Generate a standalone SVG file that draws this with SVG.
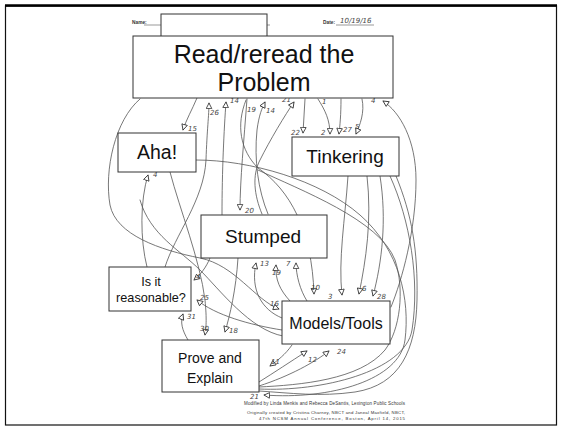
<svg xmlns="http://www.w3.org/2000/svg" width="563" height="428" viewBox="0 0 563 428">
<style>
.box{fill:#fff;stroke:#333;stroke-width:1}
.t{font-family:"Liberation Sans",Arial,sans-serif;fill:#111;text-anchor:middle}
.c{fill:none;stroke:#555;stroke-width:0.8;stroke-linecap:round}
.n{font-family:"DejaVu Sans",sans-serif;font-size:7px;fill:#444;font-style:italic}
.sm{font-family:"Liberation Sans",Arial,sans-serif;fill:#333}
</style>
<defs>
<marker id="ah" viewBox="0 0 10 10" refX="9" refY="5" markerWidth="7" markerHeight="7" markerUnits="userSpaceOnUse" orient="auto">
<path d="M1,1 L9,5 L1,9 Z" fill="#fff" stroke="#333" stroke-width="1.2"/>
</marker>
</defs>
<rect x="0" y="0" width="563" height="428" fill="#fff"/>
<rect x="5.5" y="6" width="551" height="419" fill="none" stroke="#111" stroke-width="1.2"/>
<line x1="5" y1="5.5" x2="557" y2="5.5" stroke="#000" stroke-width="2.5"/>

<g id="header">
<text class="sm" x="132" y="24" font-size="4.8" font-weight="bold">Name:</text>
<line x1="144" y1="25" x2="270" y2="25" stroke="#333" stroke-width="0.5"/>
<text class="sm" x="323" y="24" font-size="4.8" font-weight="bold">Date:</text>
<line x1="336" y1="25" x2="374" y2="25" stroke="#333" stroke-width="0.5"/>
<text class="n" x="340" y="23" font-size="8">10/19/16</text>
<rect x="161" y="14" width="106" height="23" class="box"/>
</g>

<g id="connectors">
<path class="c" d="M165,267 C175,235 204,200 206,160 C207,130 209,115 209,103" marker-end="url(#ah)"/>
<path class="c" d="M222,215 C222,170 224,130 226,102" marker-end="url(#ah)"/>
<path class="c" d="M247,99 C244,140 240,180 240,210" marker-end="url(#ah)"/>
<path class="c" d="M246,100 C236,125 240,150 258,168 C290,190 312,230 314,294" marker-end="url(#ah)"/>
<path class="c" d="M268,214 C258,190 254,160 257,130 C259,115 262,108 265,102" marker-end="url(#ah)"/>
<path class="c" d="M262,214 C254,195 252,175 260,160 C270,140 285,115 294,102" marker-end="url(#ah)"/>
<path class="c" d="M305,99 L303,133" marker-end="url(#ah)"/>
<path class="c" d="M318,99 C325,110 330,120 330,134" marker-end="url(#ah)"/>
<path class="c" d="M341,99 C341,115 340,125 339,134" marker-end="url(#ah)"/>
<path class="c" d="M362,99 C365,112 360,125 356,134" marker-end="url(#ah)"/>
<path class="c" d="M391,307 C402,280 416,230 416,180 C416,140 400,112 383,101" marker-end="url(#ah)"/>
<path class="c" d="M140,99 C115,120 104,170 110,205 C116,235 160,250 200,258 C235,265 255,300 279,309" marker-end="url(#ah)"/>
<path class="c" d="M147,267 C140,240 140,200 148,175" marker-end="url(#ah)"/>
<path class="c" d="M170,172 C180,210 200,260 205,300 C207,320 206,328 205,335" marker-end="url(#ah)"/>
<path class="c" d="M197,98 C192,110 186,120 183,130" marker-end="url(#ah)"/>
<path class="c" d="M196,160 C250,160 320,180 360,215 C400,250 410,300 405,340 C400,380 330,400 264,395" marker-end="url(#ah)"/>
<path class="c" d="M210,258 C206,268 200,275 194,280" marker-end="url(#ah)"/>
<path class="c" d="M238,258 C236,290 230,315 225,332" marker-end="url(#ah)"/>
<path class="c" d="M282,318 C262,310 250,290 256,263" marker-end="url(#ah)"/>
<path class="c" d="M290,301 C280,290 275,280 276,265" marker-end="url(#ah)"/>
<path class="c" d="M307,301 C300,290 296,275 296,263" marker-end="url(#ah)"/>
<path class="c" d="M348,176 C345,220 338,260 342,295" marker-end="url(#ah)"/>
<path class="c" d="M367,176 C372,220 366,260 359,294" marker-end="url(#ah)"/>
<path class="c" d="M380,176 C387,220 382,262 373,296" marker-end="url(#ah)"/>
<path class="c" d="M390,176 C410,220 420,280 412,330 C405,372 320,392 259,389"/>
<path class="c" d="M396,176 C412,215 418,250 417,300 C416,350 400,385 355,392 C320,397 290,393 259,391"/>
<path class="c" d="M258,170 C300,190 380,220 395,260 C405,290 400,330 385,350 C360,380 300,385 259,387"/>
<path class="c" d="M259,382 C275,372 290,362 307,351" marker-end="url(#ah)"/>
<path class="c" d="M259,386 C290,376 315,362 329,351" marker-end="url(#ah)"/>
<path class="c" d="M292,345 C285,355 278,360 270,366" marker-end="url(#ah)"/>
<path class="c" d="M282,330 C250,325 215,315 197,300" marker-end="url(#ah)"/>
<path class="c" d="M188,340 C182,330 180,322 183,314" marker-end="url(#ah)"/>
<path class="c" d="M283,336 C250,330 220,290 200,270 C180,250 150,235 140,200"/>
</g>

<g id="labels">
<text class="n" x="210" y="115">26</text>
<text class="n" x="230" y="103">14</text>
<text class="n" x="247" y="112">19</text>
<text class="n" x="266" y="113">14</text>
<text class="n" x="282" y="102">21</text>
<text class="n" x="322" y="104">1</text>
<text class="n" x="371" y="103">4</text>
<text class="n" x="188" y="131">15</text>
<text class="n" x="153" y="177">4</text>
<text class="n" x="291" y="135">22</text>
<text class="n" x="321" y="135">2</text>
<text class="n" x="343" y="132">27</text>
<text class="n" x="355" y="129">5</text>
<text class="n" x="245" y="213">20</text>
<text class="n" x="260" y="266">13</text>
<text class="n" x="272" y="275">19</text>
<text class="n" x="286" y="266">7</text>
<text class="n" x="196" y="279">4</text>
<text class="n" x="200" y="300">25</text>
<text class="n" x="187" y="319">31</text>
<text class="n" x="200" y="331">30</text>
<text class="n" x="229" y="333">18</text>
<text class="n" x="311" y="290">10</text>
<text class="n" x="328" y="299" font-size="9">3</text>
<text class="n" x="362" y="291">6</text>
<text class="n" x="377" y="299">28</text>
<text class="n" x="270" y="306">16</text>
<text class="n" x="308" y="362">12</text>
<text class="n" x="337" y="354">24</text>
<text class="n" x="271" y="364">11</text>
<text class="n" x="250" y="398.5" font-size="6">21</text>
</g>

<g id="read">
<rect x="133" y="36" width="260" height="62" class="box"/>
<text class="t" x="264" y="63" font-size="25">Read/reread the</text>
<text class="t" x="264" y="91" font-size="25">Problem</text>
</g>
<g id="aha">
<rect x="118" y="133" width="78" height="39" class="box"/>
<text class="t" x="157" y="159" font-size="19.5">Aha!</text>
</g>
<g id="tinkering">
<rect x="292" y="137" width="107" height="39" class="box"/>
<text class="t" x="345" y="163" font-size="19">Tinkering</text>
</g>
<g id="stumped">
<rect x="201" y="215" width="126" height="43" class="box"/>
<text class="t" x="263" y="243" font-size="19">Stumped</text>
</g>
<g id="reasonable">
<rect x="109" y="267" width="82" height="44" class="box"/>
<text class="t" x="151" y="286" font-size="12.7">Is it</text>
<text class="t" x="151" y="302" font-size="12.7">reasonable?</text>
</g>
<g id="models">
<rect x="282" y="301" width="108" height="43" class="box"/>
<text class="t" x="336" y="329" font-size="16">Models/Tools</text>
</g>
<g id="prove">
<rect x="162" y="340" width="97" height="52" class="box"/>
<text class="t" x="210" y="363" font-size="14">Prove and</text>
<text class="t" x="210" y="383" font-size="14">Explain</text>
</g>

<g id="footer">
<text class="sm" x="405" y="405" font-size="4.5" text-anchor="end" textLength="161">Modified by Linda Menkis and Rebecca DeSantis, Lexington Public Schools</text>
<text class="sm" x="405" y="414" font-size="4.3" text-anchor="end" textLength="158">Originally created by Cristina Charney, NBCT and Janeal Maxfield, NBCT,</text>
<text class="sm" x="405" y="419.5" font-size="4.3" text-anchor="end" textLength="146">47th NCSM Annual Conference, Boston, April 14, 2015</text>
</g>
</svg>
